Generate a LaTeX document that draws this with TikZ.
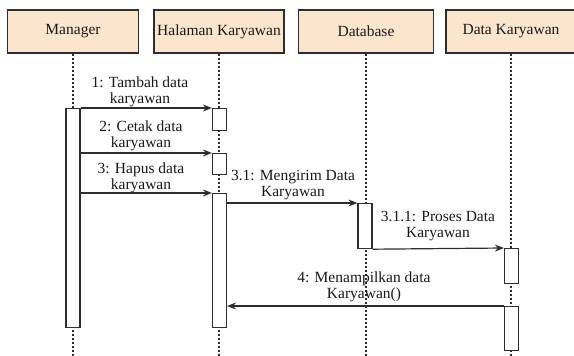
\documentclass[tikz,border=0pt]{standalone}
\usepackage{fontspec}
\setmainfont{Liberation Serif}
\usetikzlibrary{arrows.meta}
\definecolor{headfill}{RGB}{252,229,205}
\definecolor{linegray}{RGB}{45,45,45}
\definecolor{textgray}{RGB}{25,25,25}

\begin{document}
\begin{tikzpicture}[x=1pt, y=-1pt,
    every node/.style={font=\fontsize{15.5}{16.5}\selectfont, text=textgray},
    head/.style={draw=linegray, line width=1.3pt, fill=headfill, minimum height=43pt, inner sep=0pt},
    act/.style={draw=linegray, line width=1.2pt, fill=white, minimum width=14pt, inner sep=0pt, anchor=north},
    life/.style={draw=linegray, line width=1.1pt, dash pattern=on 2pt off 2pt},
    msg/.style={draw=linegray, line width=1.2pt, -{Stealth[length=9pt,width=7pt]}},
    lbl/.style={align=center, inner sep=0pt}]
      \useasboundingbox (0,0) rectangle (574,356);
      % Define objects
      \node[head, minimum width=131pt] (mgr) at (73,31.5)  {Manager};
      \node[head, minimum width=130pt] (hal) at (219,31.5) {Halaman Karyawan};
      \node[head, minimum width=135pt] (db)  at (366,31.5) {Database};
      \node[head, minimum width=130pt] (dk)  at (511,31.5) {Data Karyawan};
      \coordinate (bot) at (0,356);
      % Lifelines
      \draw[life] (mgr.south) -- (mgr.south |- bot);
      \draw[life] (hal.south) -- (hal.south |- bot);
      \draw[life] (db.south)  -- (db.south |- bot);
      \draw[life] (dk.south)  -- (dk.south |- bot);
      % Activations
      \node[act, minimum height=219pt] (mgrA) at (73,108)  {};
      \node[act, minimum height=22pt]  (halA1) at (219.5,108) {};
      \node[act, minimum height=21pt]  (halA2) at (219.5,153) {};
      \node[act, minimum height=134pt] (halA3) at (219.5,193) {};
      \node[act, minimum height=45pt]  (dbA) at (365,203) {};
      \node[act, minimum height=35pt]  (dkA1) at (511.5,248) {};
      \node[act, minimum height=44pt]  (dkA2) at (511.5,306) {};
      % Messages
      \draw[msg] (mgrA.north east) -- (halA1.north west);
      \draw[msg] (mgrA.east |- halA2.north) -- (halA2.north west);
      \draw[msg] (mgrA.east |- halA3.north) -- (halA3.north west);
      \draw[msg] (halA3.east |- dbA.north) -- (dbA.north west);
      \draw[msg] (dbA.south east) -- (dkA1.north west);
      \draw[msg] (dkA2.north west) -- (halA3.east |- dkA2.north);
      % Labels
      \node[lbl] (l1)   at (140,92)  {1: Tambah data\\karyawan};
      \node[lbl] (l2)   at (141,136) {2: Cetak data\\karyawan};
      \node[lbl] (l3)   at (141,178) {3: Hapus data\\karyawan};
      \node[lbl] (l31)  at (293,185) {3.1: Mengirim Data\\Karyawan};
      \node[lbl] (l311) at (438,226) {3.1.1: Proses Data\\Karyawan};
      \node[lbl] (l4)   at (364,287) {4: Menampilkan data\\Karyawan()};
\end{tikzpicture}
\end{document}
